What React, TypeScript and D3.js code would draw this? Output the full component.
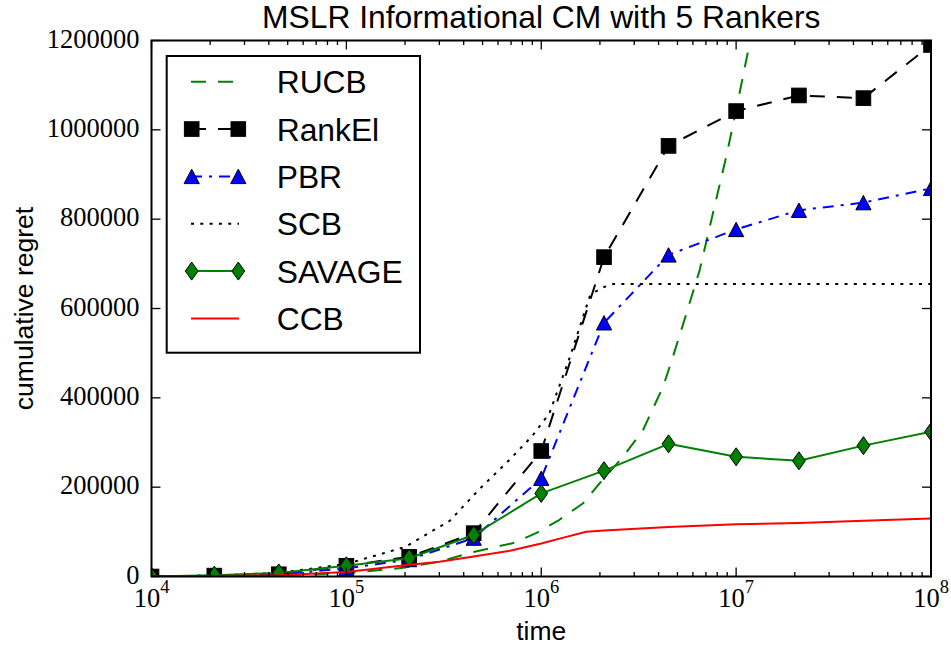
import React from "react";
import * as d3 from "d3";

const W = 951;
const H = 645;
const PL = 151.5, PR = 931, PT = 40.5, PB = 576.5;

// ---- data ----
const markerTimes = [1e4, 2.1e4, 4.5e4, 1e5, 2.1e5, 4.5e5, 1e6, 2.1e6, 4.5e6, 1e7, 2.1e7, 4.5e7, 1e8];
const rankElValues = [0, 2000, 5000, 24000, 44000, 97000, 281000, 715000, 964000, 1042000, 1077000, 1071000, 1190000];
const pbrValues = [0, 2000, 5000, 18000, 38000, 86000, 220000, 568000, 720000, 777000, 820000, 837000, 869000];
const savageValues = [0, 3000, 8000, 24000, 41000, 93000, 186000, 237000, 297000, 268000, 259000, 293000, 324000];

const rucbTimes = [1e4, 2e4, 4.5e4, 1e5, 2e5, 3e5, 4.5e5, 7.2e5, 9.4e5, 1.24e6, 1.64e6, 2.06e6, 2.63e6, 3.33e6, 4.22e6, 4.74e6, 5.56e6, 6.5e6, 7.6e6, 8.9e6, 1.0e7, 1.15e7, 1.25e7];
const rucbValues = [0, 1000, 3000, 7000, 20000, 33000, 55000, 75000, 97000, 127000, 164000, 216000, 268000, 328000, 425000, 492000, 589000, 686000, 813000, 940000, 1044000, 1175000, 1280000];

const scbTimes = [1e4, 2e4, 4.5e4, 1e5, 2e5, 3.4e5, 4.8e5, 6.9e5, 9e5, 1.1e6, 1.4e6, 1.77e6, 1.9e6, 2.1e6, 2.35e6, 1e7, 1e8];
const scbValues = [0, 2000, 8000, 28000, 66000, 125000, 195000, 262000, 315000, 365000, 490000, 626000, 638000, 648000, 655000, 655000, 655000];

const ccbTimes = [1e4, 2e4, 4.5e4, 1e5, 2e5, 3e5, 4.5e5, 7e5, 1e6, 1.3e6, 1.7e6, 2.1e6, 4.5e6, 1e7, 2.1e7, 4.5e7, 1e8];
const ccbValues = [0, 1000, 3000, 10000, 25000, 33000, 45000, 58000, 74000, 87000, 100000, 103000, 111000, 117000, 120000, 125000, 130000];

const xTickExps = [4, 5, 6, 7, 8];
const yTickValues = [0, 200000, 400000, 600000, 800000, 1000000, 1200000];
const legendNames = ["RUCB", "RankEl", "PBR", "SCB", "SAVAGE", "CCB"];

const titleText = "MSLR Informational CM with 5 Rankers";
const xLabel = "time";
const yLabel = "cumulative regret";

const SANS = "'Liberation Sans', Arial, Helvetica, sans-serif";
const SERIF = "'Liberation Serif', 'Times New Roman', serif";

const x = d3.scaleLog().domain([1e4, 1e8]).range([PL, PR]);
const y = d3.scaleLinear().domain([0, 1200000]).range([PB, PT]);

function pathOf(ts: number[], vs: number[]) {
  const g = d3
    .line<number>()
    .x((_, i) => x(ts[i]))
    .y((v) => y(v));
  return g(vs) || "";
}

function Square({ cx, cy }: { cx: number; cy: number }) {
  const s = 14.6;
  return <rect x={cx - s / 2} y={cy - s / 2} width={s} height={s} fill="#000" stroke="#000" strokeWidth={1} />;
}
function Triangle({ cx, cy }: { cx: number; cy: number }) {
  const w = 7.6, h = 7.2;
  return (
    <path
      d={`M${cx},${cy - h}L${cx + w},${cy + h}L${cx - w},${cy + h}Z`}
      fill="#0000ff"
      stroke="#000"
      strokeWidth={1}
    />
  );
}
function Diamond({ cx, cy }: { cx: number; cy: number }) {
  const w = 6.4, h = 9;
  return (
    <path
      d={`M${cx},${cy - h}L${cx + w},${cy}L${cx},${cy + h}L${cx - w},${cy}Z`}
      fill="#008000"
      stroke="#000"
      strokeWidth={1}
    />
  );
}

const styles: Record<string, { stroke: string; dash?: string }> = {
  RUCB: { stroke: "#008000", dash: "15,12" },
  RankEl: { stroke: "#000", dash: "15,12" },
  PBR: { stroke: "#0000ff", dash: "11,7,3,7" },
  SCB: { stroke: "#000", dash: "3,6.3" },
  SAVAGE: { stroke: "#008000" },
  CCB: { stroke: "#ff0000" },
};

function markerFor(name: string, cx: number, cy: number, key?: string | number) {
  if (name === "RankEl") return <Square key={key} cx={cx} cy={cy} />;
  if (name === "PBR") return <Triangle key={key} cx={cx} cy={cy} />;
  if (name === "SAVAGE") return <Diamond key={key} cx={cx} cy={cy} />;
  return null;
}

export default function App() {
  const minor: number[] = [];
  for (let e = 4; e < 8; e++) for (let k = 2; k <= 9; k++) minor.push(k * Math.pow(10, e));

  const series: { name: string; ts: number[]; vs: number[]; markers: boolean }[] = [
    { name: "RUCB", ts: rucbTimes, vs: rucbValues, markers: false },
    { name: "RankEl", ts: markerTimes, vs: rankElValues, markers: true },
    { name: "PBR", ts: markerTimes, vs: pbrValues, markers: true },
    { name: "SCB", ts: scbTimes, vs: scbValues, markers: false },
    { name: "SAVAGE", ts: markerTimes, vs: savageValues, markers: true },
    { name: "CCB", ts: ccbTimes, vs: ccbValues, markers: false },
  ];

  const legX0 = 166.7, legY0 = 56, legX1 = 420, legY1 = 352.7;
  const legBase0 = 93.3, legStep = 47.35;

  return (
    <svg
      width={W}
      height={H}
      viewBox={`0 0 ${W} ${H}`}
      style={{ position: "absolute", left: 0, top: 0, background: "#fff" }}
    >
      <defs>
        <clipPath id="plotClip">
          <rect x={PL} y={PT} width={PR - PL} height={PB - PT} />
        </clipPath>
      </defs>
      <rect x={0} y={0} width={W} height={H} fill="#fff" />

      <g clipPath="url(#plotClip)">
        {series.map((s) => (
          <g key={s.name}>
            <path
              d={pathOf(s.ts, s.vs)}
              fill="none"
              stroke={styles[s.name].stroke}
              strokeWidth={2}
              strokeDasharray={styles[s.name].dash}
              strokeLinejoin="round"
            />
            {s.markers && s.vs.map((v, i) => markerFor(s.name, x(s.ts[i]), y(v), i))}
          </g>
        ))}
      </g>

      {/* ticks */}
      <g stroke="#000" strokeWidth={1.3}>
        {xTickExps.map((e) => {
          const tx = x(Math.pow(10, e));
          return (
            <g key={"xt" + e}>
              <line x1={tx} x2={tx} y1={PB} y2={PB - 9} />
              <line x1={tx} x2={tx} y1={PT} y2={PT + 9} />
            </g>
          );
        })}
        {minor.map((m) => {
          const tx = x(m);
          return (
            <g key={"mt" + m}>
              <line x1={tx} x2={tx} y1={PB} y2={PB - 4.5} />
              <line x1={tx} x2={tx} y1={PT} y2={PT + 4.5} />
            </g>
          );
        })}
        {yTickValues.map((v) => {
          const ty = y(v);
          return (
            <g key={"yt" + v}>
              <line x1={PL} x2={PL + 9} y1={ty} y2={ty} />
              <line x1={PR} x2={PR - 9} y1={ty} y2={ty} />
            </g>
          );
        })}
      </g>

      {/* frame */}
      <rect x={PL} y={PT} width={PR - PL} height={PB - PT} fill="none" stroke="#000" strokeWidth={2} />

      {/* tick labels */}
      <g fontFamily={SERIF} fontSize={26.5} fill="#000">
        {yTickValues.map((v) => (
          <text key={"yl" + v} x={PL - 12} y={y(v) + 7} textAnchor="end">
            {String(v)}
          </text>
        ))}
        {xTickExps.map((e) => (
          <text key={"xl" + e} x={x(Math.pow(10, e))} y={PB + 30} textAnchor="middle">
            <tspan>10</tspan>
            <tspan dy={-13.5} fontSize={18.5}>
              {String(e)}
            </tspan>
          </text>
        ))}
      </g>

      {/* axis labels & title */}
      <text x={(PL + PR) / 2} y={28} textAnchor="middle" fontFamily={SANS} fontSize={31.8} fill="#000">
        {titleText}
      </text>
      <text x={(PL + PR) / 2} y={640} textAnchor="middle" fontFamily={SANS} fontSize={26.5} fill="#000">
        {xLabel}
      </text>
      <text
        transform={`translate(33,${(PT + PB) / 2}) rotate(-90)`}
        textAnchor="middle"
        fontFamily={SANS}
        fontSize={26.5}
        fill="#000"
      >
        {yLabel}
      </text>

      {/* legend */}
      <g>
        <rect x={legX0} y={legY0} width={legX1 - legX0} height={legY1 - legY0} fill="#fff" stroke="#000" strokeWidth={2} />
        {legendNames.map((name, i) => {
          const base = legBase0 + i * legStep;
          const ly = base - 11.6;
          const st = styles[name];
          return (
            <g key={"lg" + name}>
              <line
                x1={191}
                x2={239}
                y1={ly}
                y2={ly}
                stroke={st.stroke}
                strokeWidth={2}
                strokeDasharray={st.dash}
              />
              {markerFor(name, 191.7, ly, "a")}
              {markerFor(name, 238.3, ly, "b")}
              <text x={276.7} y={base} fontFamily={SANS} fontSize={31.8} fill="#000">
                {name}
              </text>
            </g>
          );
        })}
      </g>
    </svg>
  );
}
